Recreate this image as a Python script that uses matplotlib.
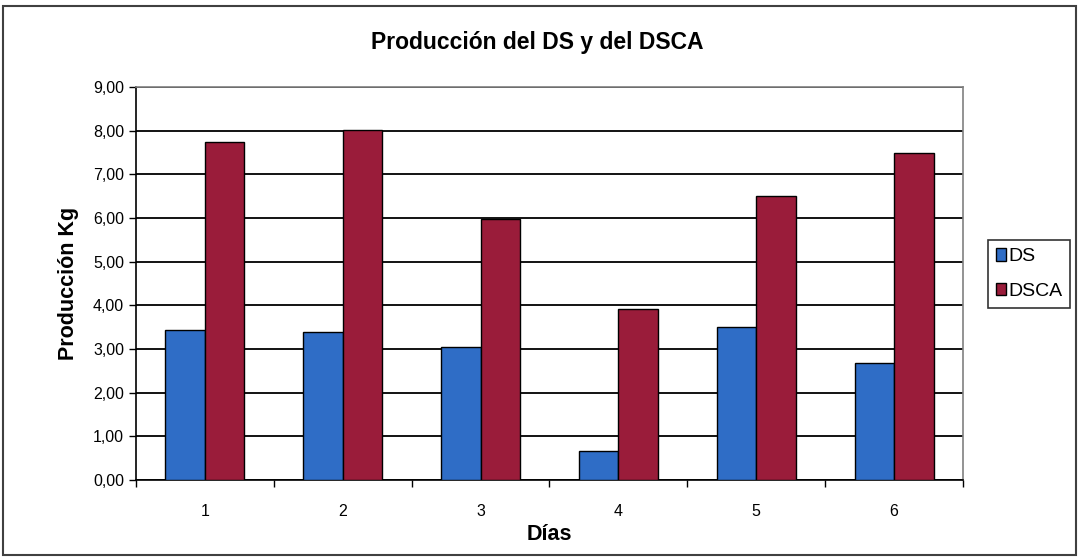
import matplotlib.pyplot as plt
import numpy as np
from matplotlib.patches import Rectangle

plt.rcParams['font.family'] = ['Liberation Sans', 'DejaVu Sans']

dias = ['1', '2', '3', '4', '5', '6']
ds = [3.43, 3.38, 3.04, 0.67, 3.50, 2.67]
dsca = [7.73, 8.02, 5.98, 3.92, 6.50, 7.48]
yticks = [0, 1, 2, 3, 4, 5, 6, 7, 8, 9]
ytick_labels = ['0,00', '1,00', '2,00', '3,00', '4,00', '5,00', '6,00', '7,00', '8,00', '9,00']

fig = plt.figure(figsize=(10.79, 5.6), dpi=100)
ax = fig.add_axes([136 / 1079, 1 - 480 / 560, (963 - 136) / 1079, (480 - 87) / 560])

x = np.arange(len(dias))
w = 0.286
ax.bar(x - w / 2, ds, w, color='#2F6DC6', edgecolor='black', linewidth=1, label='DS', zorder=3)
ax.bar(x + w / 2, dsca, w, color='#9A1C3A', edgecolor='black', linewidth=1, label='DSCA', zorder=3)

ax.set_xlim(-0.5, len(dias) - 0.5)
ax.set_ylim(0, 9)
ax.set_yticks(yticks)
ax.set_yticklabels(ytick_labels, fontsize=11.5)
ax.yaxis.grid(True, color='black', linewidth=1.3, zorder=0)

# category labels at centers, tick marks at category boundaries
ax.set_xticks(x)
ax.set_xticklabels(dias, fontsize=11.5)
ax.tick_params(axis='x', length=0, pad=17)
ax.set_xticks(np.arange(-0.5, len(dias)), minor=True)
ax.tick_params(axis='x', which='minor', length=5, width=1, direction='out')
ax.tick_params(axis='y', length=5, width=1, direction='out')

for side in ['top', 'right']:
    ax.spines[side].set_color('#808080')
    ax.spines[side].set_linewidth(1.2)
for side in ['left', 'bottom']:
    ax.spines[side].set_color('black')
    ax.spines[side].set_linewidth(1.2)

ax.set_ylabel('Producción Kg', fontsize=15.5, fontweight='bold', labelpad=10)
ax.set_xlabel('Días', fontsize=15.5, fontweight='bold', labelpad=4)
fig.text(537 / 1079, 1 - 43 / 560, 'Producción del DS y del DSCA', fontsize=16.5,
         fontweight='bold', ha='center', va='center')

leg = ax.legend(loc='center left', bbox_to_anchor=(988 / 1079, 1 - 274 / 560),
                bbox_transform=fig.transFigure, fontsize=14, frameon=True,
                fancybox=False, edgecolor='black', handlelength=0.5, handleheight=0.6,
                handletextpad=0.15, borderpad=0.4, labelspacing=0.9, borderaxespad=0)
leg.get_frame().set_linewidth(1.2)

# outer chart border
fig.patches.append(Rectangle((3 / 1079, 5 / 560), 1073 / 1079, 549 / 560,
                             transform=fig.transFigure, fill=False,
                             edgecolor='#404040', linewidth=1.5))

fig.savefig('out.png', dpi=100)
